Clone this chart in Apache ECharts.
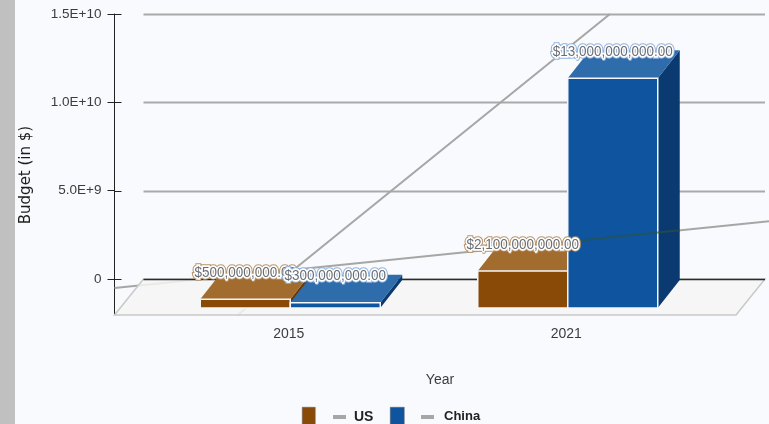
<!DOCTYPE html>
<html>
<head>
<meta charset="utf-8">
<style>html,body{margin:0;padding:0;background:#f9fafd}#chart{width:769px;height:424px}</style>
<script src="https://cdn.jsdelivr.net/npm/echarts@6/dist/echarts.min.js"></script>
</head>
<body>
<div id="chart"></div>
<script>
// Budget by year, in dollars
const categories = ['2015', '2021'];
const usBudget = [500000000, 2100000000];
const chinaBudget = [300000000, 13000000000];
const yTicks = [0, 5000000000, 10000000000, 15000000000];
const yTickLabels = ['0', '5.0E+9', '1.0E+10', '1.5E+10'];
const priceLabels = {
  us: ['$500,000,000.00', '$2,100,000,000.00'],
  china: ['$300,000,000.00', '$13,000,000,000.00']
};

// Pseudo-3D layout of the floor and the bars
const AXIS_X = 114.5, FLOOR_FRONT_DROP = 36, FLOOR_SKEW = 29;
const WALL_RIGHT = 765;
const BAR_DROP = 29, BAR_W = 90, DEPTH_X = 22, DEPTH_Y = 28;
const CLIP = { left: 114.5, right: 769, top: 14, bottom: 315 };
const FONT = '"Liberation Sans", Arial, sans-serif';

const palette = {
  us: { front: '#8a4a07', top: '#a26c2e', side: '#6a3905', halo: '#b8946a' },
  china: { front: '#0e549e', top: '#2f6cab', side: '#0a3a70', halo: '#8fb2df' }
};

function renderWall(params, api) {
  const wallLeft = AXIS_X + FLOOR_SKEW;
  const zeroY = api.coord([0, 0])[1];
  const floorY = zeroY + FLOOR_FRONT_DROP;
  const children = [];
  yTicks.forEach(function (v) {
    const y = Math.round(api.coord([0, v])[1]) + 0.5;
    if (v !== 0) {
      children.push({
        type: 'line',
        shape: { x1: wallLeft, y1: y, x2: WALL_RIGHT, y2: y },
        style: { stroke: '#a9a9a9', lineWidth: 2 }
      });
    }
    children.push({
      type: 'line',
      shape: { x1: AXIS_X, y1: y, x2: AXIS_X + 7, y2: y },
      style: { stroke: '#222', lineWidth: 1 }
    });
  });
  children.push({
    type: 'line',
    shape: { x1: AXIS_X, y1: zeroY, x2: AXIS_X, y2: floorY },
    style: { stroke: '#222', lineWidth: 1 }
  });
  return { type: 'group', children: children };
}

// The floor sits over the trend lines, which show through it only faintly
function renderFloor(params, api) {
  const wallLeft = AXIS_X + FLOOR_SKEW;
  const zeroY = api.coord([0, 0])[1];
  const floorY = zeroY + FLOOR_FRONT_DROP;
  const lineY = Math.round(zeroY) + 0.5;
  return {
    type: 'group',
    children: [{
      type: 'polygon',
      shape: { points: [[AXIS_X, floorY], [wallLeft, zeroY], [WALL_RIGHT, zeroY], [WALL_RIGHT - FLOOR_SKEW, floorY]] },
      style: { fill: 'rgba(245,244,243,0.86)', stroke: '#c9c9c9', lineWidth: 1.5 }
    }, {
      type: 'line',
      shape: { x1: wallLeft, y1: lineY, x2: WALL_RIGHT, y2: lineY },
      style: { stroke: '#2b2b2b', lineWidth: 1.5 }
    }]
  };
}

// Straight line through both yearly values, extended to the plot's limits
function clippedLine(api, values, limits) {
  const a = api.coord([0, values[0]]);
  const b = api.coord([1, values[1]]);
  const slope = (b[1] - a[1]) / (b[0] - a[0]);
  const yAt = function (x) { return a[1] + (x - a[0]) * slope; };
  const xAt = function (y) { return a[0] + (y - a[1]) / slope; };
  const xs = [xAt(limits.bottom), xAt(limits.top)].sort(function (p, q) { return p - q; });
  const x1 = Math.max(limits.left, xs[0]);
  const x2 = Math.min(limits.right, xs[1]);
  return { x1: x1, y1: yAt(x1), x2: x2, y2: yAt(x2) };
}

function renderTrend(params, api) {
  const values = params.dataIndex === 0 ? usBudget : chinaBudget;
  return {
    type: 'line',
    shape: clippedLine(api, values, CLIP),
    style: { stroke: '#a6a6a6', lineWidth: 2 }
  };
}

function barGeometry(api, catIndex, value, isChina) {
  const c = api.coord([catIndex, 0])[0];
  const base = api.coord([catIndex, 0])[1] + BAR_DROP;
  const h = api.coord([catIndex, 0])[1] - api.coord([catIndex, value])[1];
  const x0 = isChina ? c + 1.5 : c + 1.5 - BAR_W;
  return { x0: x0, x1: x0 + BAR_W, base: base, top: base - h };
}

function renderBar(params, api) {
  const isChina = params.seriesName === 'China';
  const colors = isChina ? palette.china : palette.us;
  const values = isChina ? chinaBudget : usBudget;
  const g = barGeometry(api, params.dataIndex, values[params.dataIndex], isChina);
  return {
    type: 'group',
    children: [{
      type: 'polygon',
      shape: { points: [[g.x1, g.base], [g.x1 + DEPTH_X, g.base - DEPTH_Y], [g.x1 + DEPTH_X, g.top - DEPTH_Y], [g.x1, g.top]] },
      style: { fill: colors.side }
    }, {
      type: 'polygon',
      shape: { points: [[g.x0, g.top], [g.x0 + DEPTH_X, g.top - DEPTH_Y], [g.x1 + DEPTH_X, g.top - DEPTH_Y], [g.x1, g.top]] },
      style: { fill: colors.top }
    }, {
      type: 'rect',
      shape: { x: g.x0, y: g.top, width: BAR_W, height: g.base - g.top },
      style: { fill: colors.front, stroke: '#f4f6fa', lineWidth: 1.5 }
    }]
  };
}

// Where the US line crosses the tall 2021 China bar it shows through as a dark tint
function renderBarTint(params, api) {
  const g = barGeometry(api, 1, chinaBudget[1], true);
  return {
    type: 'line',
    shape: clippedLine(api, usBudget, { left: g.x0, right: g.x1 + DEPTH_X, top: CLIP.top, bottom: CLIP.bottom }),
    style: { stroke: 'rgba(48,84,60,0.6)', lineWidth: 2 }
  };
}

function renderLabel(params, api) {
  const isChina = params.seriesName === 'China ';
  const colors = isChina ? palette.china : palette.us;
  const values = isChina ? chinaBudget : usBudget;
  const texts = isChina ? priceLabels.china : priceLabels.us;
  const g = barGeometry(api, params.dataIndex, values[params.dataIndex], isChina);
  const pos = { x: (g.x0 + g.x1) / 2, y: g.top - 26.5, scaleY: 1.12 };
  const base = { text: texts[params.dataIndex], font: '13.5px ' + FONT, align: 'center', verticalAlign: 'middle' };
  return {
    type: 'group',
    children: [
      Object.assign({ type: 'text', style: Object.assign({}, base, { fill: '#fff', stroke: colors.halo, lineWidth: 5 }) }, pos),
      Object.assign({ type: 'text', style: Object.assign({}, base, { fill: '#6a6e74', stroke: '#fff', lineWidth: 3 }) }, pos)
    ]
  };
}

function customSeries(name, renderItem, data, z) {
  return { type: 'custom', name: name, renderItem: renderItem, data: data, z: z, silent: true, clip: false };
}

const chart = echarts.init(document.getElementById('chart'), null, { renderer: 'canvas' });
chart.setOption({
  animation: false,
  backgroundColor: '#f9fafd',
  textStyle: { fontFamily: FONT },
  grid: { left: 150, right: 64, top: 14, bottom: 145 },
  xAxis: {
    type: 'category',
    data: categories,
    axisLine: { show: false },
    axisTick: { show: false },
    axisLabel: { margin: 48, fontSize: 14, color: '#3c3c3c', fontFamily: FONT },
    name: 'Year',
    nameLocation: 'middle',
    nameGap: 94,
    nameTextStyle: { fontSize: 14, color: '#3c3c3c', padding: [0, 0, 0, 25], fontFamily: FONT }
  },
  yAxis: {
    type: 'value',
    min: 0,
    max: 15000000000,
    interval: 5000000000,
    offset: 35.5,
    splitLine: { show: false },
    axisLine: { show: true, lineStyle: { color: '#222', width: 1 } },
    axisTick: { show: true, length: 7, lineStyle: { color: '#222' } },
    axisLabel: {
      margin: 13,
      fontSize: 13.5,
      color: '#3c3c3c',
      fontFamily: FONT,
      formatter: function (v) { return yTickLabels[yTicks.indexOf(v)]; }
    },
    name: 'Budget (in $)',
    nameLocation: 'middle',
    nameGap: 81,
    nameTextStyle: { fontSize: 15, color: '#1c1c1c', fontFamily: '"DejaVu Sans", sans-serif', padding: [0, 57, 0, 0] }
  },
  series: [
    customSeries('wall', renderWall, [0], 1),
    customSeries('Trend', renderTrend, [0, 1], 2),
    customSeries('floor', renderFloor, [0], 3),
    customSeries('US', renderBar, [0, 1], 4),
    customSeries('China', renderBar, [0, 1], 5),
    customSeries('tint', renderBarTint, [0], 6),
    customSeries('US ', renderLabel, [0, 1], 7),
    customSeries('China ', renderLabel, [0, 1], 8)
  ],
  graphic: [
    { type: 'rect', left: 0, top: 0, shape: { width: 15, height: 424 }, style: { fill: '#c0c0c0' } },
    { type: 'rect', left: 302, top: 407, shape: { width: 13, height: 17 }, style: { fill: palette.us.front, stroke: '#5f5f5f', lineWidth: 0.5 } },
    { type: 'rect', left: 333, top: 415, shape: { width: 13, height: 4 }, style: { fill: '#a6a6a6' } },
    { type: 'text', left: 354, top: 410, style: { text: 'US', font: 'bold 14px ' + FONT, fill: '#222' } },
    { type: 'rect', left: 390, top: 407, shape: { width: 14, height: 17 }, style: { fill: palette.china.front, stroke: '#5f5f5f', lineWidth: 0.5 } },
    { type: 'rect', left: 421, top: 415, shape: { width: 13, height: 4 }, style: { fill: '#a6a6a6' } },
    { type: 'text', left: 444, top: 410, style: { text: 'China', font: 'bold 13px ' + FONT, fill: '#222' } }
  ]
});
</script>
</body>
</html>
